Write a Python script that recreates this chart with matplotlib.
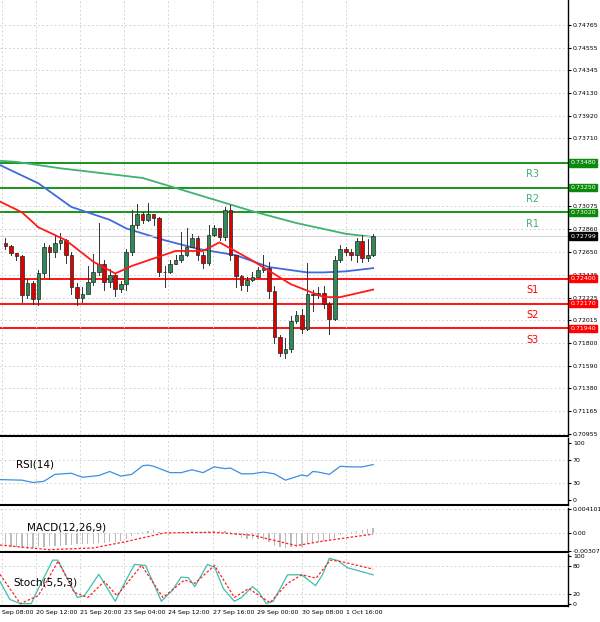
import matplotlib

matplotlib.use("Agg")
import matplotlib.pyplot as plt
from matplotlib.patches import Rectangle

# candle closes (open = previous close), highs, lows
OPEN0 = 0.7273
CLOSES = [0.7271, 0.7264, 0.7261, 0.7225, 0.7236, 0.7221, 0.7245, 0.7270, 0.7265, 0.7273,
          0.7276, 0.7262, 0.7232, 0.7222, 0.7226, 0.7237, 0.7246, 0.7254, 0.7237, 0.7244,
          0.7231, 0.7235, 0.7265, 0.7290, 0.7300, 0.7295, 0.7300, 0.7297, 0.7246, 0.7246,
          0.7254, 0.7258, 0.7262, 0.7270, 0.7278, 0.7262, 0.7255, 0.7281, 0.7287, 0.7279,
          0.7304, 0.7262, 0.7243, 0.7234, 0.7239, 0.7242, 0.7248, 0.7250, 0.7229, 0.7186,
          0.7171, 0.7175, 0.7201, 0.7206, 0.7193, 0.7226, 0.7225, 0.7227, 0.7217, 0.7203,
          0.7258, 0.7268, 0.7265, 0.7262, 0.7275, 0.7259, 0.7262, 0.7280]
HIGHS = [0.7278, 0.7272, 0.7264, 0.7262, 0.7240, 0.7238, 0.7248, 0.7273, 0.7272, 0.7280,
         0.7283, 0.7277, 0.7265, 0.7236, 0.7232, 0.7252, 0.7263, 0.7292, 0.7258, 0.7249,
         0.7245, 0.7238, 0.7268, 0.7304, 0.7310, 0.7302, 0.7311, 0.7300, 0.7298, 0.7252,
         0.7258, 0.7262, 0.7284, 0.7287, 0.7282, 0.7280, 0.7265, 0.7290, 0.7290, 0.7284,
         0.7307, 0.7309, 0.7258, 0.7244, 0.7242, 0.7246, 0.7251, 0.7262, 0.7256, 0.7233,
         0.7188, 0.7185, 0.7205, 0.7210, 0.7212, 0.7255, 0.7230, 0.7232, 0.7233, 0.7218,
         0.7261, 0.7272, 0.7270, 0.7268, 0.7278, 0.7281, 0.7277, 0.7282]
LOWS = [0.7268, 0.7262, 0.7258, 0.7218, 0.7222, 0.7217, 0.7216, 0.7242, 0.7240, 0.7260,
        0.7268, 0.7255, 0.7226, 0.7216, 0.7218, 0.7230, 0.7234, 0.7244, 0.7230, 0.7232,
        0.7224, 0.7228, 0.7230, 0.7262, 0.7287, 0.7292, 0.7294, 0.7290, 0.7243, 0.7232,
        0.7245, 0.7254, 0.7256, 0.7261, 0.7270, 0.7258, 0.7250, 0.7253, 0.7280, 0.7276,
        0.7276, 0.7258, 0.7232, 0.7230, 0.7229, 0.7238, 0.7244, 0.7246, 0.7222, 0.7180,
        0.7168, 0.7166, 0.7172, 0.7199, 0.7190, 0.7192, 0.7210, 0.7222, 0.7213, 0.7189,
        0.7202, 0.7256, 0.7262, 0.7258, 0.7256, 0.7256, 0.7257, 0.7261]

# moving averages: (candle index, price)
MA_SLOW_X = [-1, 2, 10, 25, 45, 53, 62, 67]
MA_SLOW_Y = [0.7350, 0.7349, 0.7343, 0.7334, 0.7303, 0.7292, 0.7282, 0.7279]
MA_MID_X = [-1, 6, 12, 19, 22, 29, 35, 42, 48, 55, 58, 62, 67]
MA_MID_Y = [0.7346, 0.7329, 0.7307, 0.7295, 0.7287, 0.7276, 0.7268, 0.7262, 0.7251, 0.7246, 0.7246, 0.7247, 0.7250]
MA_FAST_X = [-1, 3, 6, 11, 16, 20, 23, 27, 31, 36, 39, 45, 52, 55, 58, 61, 67]
MA_FAST_Y = [0.7312, 0.7302, 0.7288, 0.7276, 0.7256, 0.7245, 0.7252, 0.7259, 0.7266, 0.7266, 0.7274, 0.7257, 0.7235, 0.7229, 0.7223, 0.7223, 0.7230]

LEVELS = [0.7348, 0.7325, 0.7302, 0.7240, 0.7217, 0.7194]
LEVEL_NAMES = ["R3", "R2", "R1", "S1", "S2", "S3"]
LAST_PRICE = 0.72799
PRICE_TICKS = [0.74765, 0.74555, 0.74345, 0.74130, 0.73920, 0.73710, 0.73075, 0.72860,
               0.72650, 0.72435, 0.72225, 0.72015, 0.71800, 0.71590, 0.71380, 0.71165, 0.70955]

RSI_X = [-1, 3, 5, 7, 9, 12, 14, 17, 19, 21, 23, 25, 26, 27, 30, 32, 34, 36, 38, 40, 41, 43,
         45, 47, 49, 51, 52, 54, 55, 56, 57, 59, 61, 63, 65, 67]
RSI_Y = [36, 35, 31, 33, 45, 47, 40, 43, 50, 42, 45, 60, 61, 59, 48, 48, 53, 48, 58, 55, 56,
         46, 46, 49, 46, 35, 38, 44, 42, 50, 49, 45, 59, 58, 58, 62]

MACD_HIST = [-0.0022, -0.0024, -0.0025, -0.0026, -0.0027, -0.0026, -0.0025, -0.0024, -0.0023, -0.0022,
             -0.0022, -0.0021, -0.0021, -0.0020, -0.0020, -0.0019, -0.0019, -0.0018, -0.0017, -0.0016,
             -0.0015, -0.0014, -0.0010, -0.0006, -0.0002, 0.0002, 0.0004, 0.0005, 0.0002, 0.0000,
             -0.0002, 0.0000, 0.0001, 0.0002, 0.0003, 0.0002, 0.0001, 0.0003, 0.0004, 0.0003,
             0.0004, 0.0002, -0.0004, -0.0008, -0.0010, -0.0010, -0.0010, -0.0012, -0.0016, -0.0022,
             -0.0025, -0.0026, -0.0025, -0.0024, -0.0024, -0.0020, -0.0017, -0.0015, -0.0014, -0.0013,
             -0.0008, -0.0004, -0.0001, 0.0001, 0.0003, 0.0005, 0.0006, 0.0008]
MACD_SIG_X = [-1, 8, 16, 22, 29, 38, 45, 53, 58, 67]
MACD_SIG_Y = [-0.0021, -0.0029, -0.0026, -0.0015, 0.0000, 0.0001, -0.0004, -0.0022, -0.0014, -0.0002]

STOCH_X = [-1, 0.8, 2.7, 4.7, 6, 8.6, 9.5, 11.2, 13.1, 14.4, 17, 19, 20, 21.5, 23.5, 25.5, 27.4,
           28.4, 30.4, 32, 33.3, 34.5, 36.8, 38.1, 39.7, 41.7, 43, 45, 46.2, 47.5, 48.8, 51.4, 54,
           56.5, 57.8, 59, 60.6, 62.3, 67]
STOCH_K = [47, 9, 0, 0, 32, 92, 92, 55, 13, 17, 62, 24, 5, 39, 83, 81, 32, 5, 28, 56, 55, 36,
           83, 77, 32, 5, 13, 36, 24, 0, 5, 61, 61, 38, 62, 96, 91, 76, 61]
STOCH_D_X = [-1, 2.7, 6, 9.6, 12.5, 15, 18, 20.3, 24.8, 28.7, 32.6, 34.5, 38.1, 41.7, 44.3, 48.2,
             51.4, 54, 56.6, 59.2, 61.2, 67]
STOCH_D_Y = [62, 0, 17, 90, 24, 13, 47, 17, 81, 13, 50, 43, 81, 13, 32, 2, 43, 61, 54, 92, 89, 73]

TICK_IDX = [-0.6, 5.6, 13.6, 21.6, 29.6, 37.8, 45.8, 54, 62]
TICK_LABELS = ["Sep 08:00", "20 Sep 12:00", "21 Sep 20:00", "23 Sep 04:00", "24 Sep 12:00",
               "27 Sep 16:00", "29 Sep 00:00", "30 Sep 08:00", "1 Oct 16:00"]

XMAX = 102.5
W, H = 600, 622
RIGHT = 568
GREEN_LVL = "#0a8a0a"
RED_LVL = "#ff0000"
FS = 4.5


def make_ax(fig, top, bottom):
    ax = fig.add_axes([0, 1 - bottom / H, RIGHT / W, (bottom - top) / H])
    ax.set_xlim(-1, XMAX)
    ax.yaxis.tick_right()
    ax.tick_params(axis="y", labelsize=FS, length=2, pad=1.5)
    ax.tick_params(axis="x", length=0, labelbottom=False)
    ax.set_xticks(TICK_IDX)
    ax.grid(True, color="#c8c8c8", linestyle=(0, (2, 3)), linewidth=0.6)
    for side in ("left", "top"):
        ax.spines[side].set_visible(False)
    ax.spines["right"].set_linewidth(1.0)
    ax.spines["bottom"].set_linewidth(1.5)
    return ax


fig = plt.figure(figsize=(W / 100, H / 100), dpi=100)

# main price panel
ax = make_ax(fig, 0, 436)
ax.set_ylim(0.70936, 0.74998)
ax.set_yticks(PRICE_TICKS)
ax.set_yticklabels(["{:.5f}".format(v) for v in PRICE_TICKS])

opens = [OPEN0] + CLOSES[:-1]
for i, (o, c, hi, lo) in enumerate(zip(opens, CLOSES, HIGHS, LOWS)):
    ax.plot([i, i], [lo, hi], color="#333333", linewidth=0.7, zorder=3)
    color = "#2e8b57" if c >= o else "#e00000"
    body = max(abs(c - o), 0.00004)
    ax.add_patch(Rectangle((i - 0.33, min(o, c)), 0.66, body, facecolor=color,
                           edgecolor="#222222", linewidth=0.5, zorder=4))

ax.plot(MA_SLOW_X, MA_SLOW_Y, color="#3cb371", linewidth=1.3, zorder=2)
ax.plot(MA_MID_X, MA_MID_Y, color="#4169e1", linewidth=1.3, zorder=2)
ax.plot(MA_FAST_X, MA_FAST_Y, color="#ff1a1a", linewidth=1.3, zorder=5)

ax.axhline(LAST_PRICE, color="#cccccc", linewidth=0.6)
for lvl, name in zip(LEVELS, LEVEL_NAMES):
    col = GREEN_LVL if name.startswith("R") else RED_LVL
    ax.axhline(lvl, color=col, linewidth=1.3, zorder=1)
    ax.text(96, lvl - 0.00105, name, color="#3cb371" if col == GREEN_LVL else RED_LVL,
            fontsize=7, ha="center", va="center")
    ax.text(1.004, lvl, "{:.5f}".format(lvl), transform=ax.get_yaxis_transform(),
            fontsize=FS, color="white", va="center", ha="left", clip_on=False, zorder=10,
            bbox=dict(facecolor=col, edgecolor=col, pad=0.8))
ax.text(1.004, LAST_PRICE, "{:.5f}".format(LAST_PRICE), transform=ax.get_yaxis_transform(),
        fontsize=FS, color="white", va="center", ha="left", clip_on=False, zorder=10,
        bbox=dict(facecolor="black", edgecolor="black", pad=0.8))

# RSI
ax_rsi = make_ax(fig, 438, 505)
ax_rsi.set_ylim(-8, 108)
ax_rsi.set_yticks([0, 30, 70, 100])
ax_rsi.grid(False)
ax_rsi.grid(True, axis="x", color="#c8c8c8", linestyle=(0, (2, 3)), linewidth=0.6)
for v in (30, 70):
    ax_rsi.axhline(v, color="#c8c8c8", linestyle=(0, (2, 3)), linewidth=0.6)
ax_rsi.plot(RSI_X, RSI_Y, color="#3d8fe0", linewidth=0.9)
ax_rsi.text(2, 62, "RSI(14)", fontsize=7.5, va="center")

# MACD
ax_macd = make_ax(fig, 508, 552)
ax_macd.set_ylim(-0.0033, 0.0043)
ax_macd.set_yticks([-0.00307, 0.0, 0.004101])
ax_macd.set_yticklabels(["-0.00307", "0.00", "0.004101"])
ax_macd.bar(range(len(MACD_HIST)), MACD_HIST, width=0.25, color="#bbbbbb")
ax_macd.plot(MACD_SIG_X, MACD_SIG_Y, color="#ff2020", linestyle=(0, (2, 1.5)), linewidth=0.9)
ax_macd.text(4, 0.0009, "MACD(12,26,9)", fontsize=7.5, va="center")

# Stochastic
ax_st = make_ax(fig, 554, 606)
ax_st.set_ylim(-5, 105)
ax_st.set_yticks([0, 20, 80, 100])
ax_st.grid(False)
ax_st.grid(True, axis="x", color="#c8c8c8", linestyle=(0, (2, 3)), linewidth=0.6)
for v in (20, 80):
    ax_st.axhline(v, color="#c8c8c8", linestyle=(0, (2, 3)), linewidth=0.6)
ax_st.plot(STOCH_X, STOCH_K, color="#3cbfb0", linewidth=0.9)
ax_st.plot(STOCH_D_X, STOCH_D_Y, color="#ff2020", linestyle=(0, (2, 1.5)), linewidth=0.9)
ax_st.text(1.5, 45, "Stoch(5,5,3)", fontsize=7.5, va="center")
ax_st.tick_params(axis="x", labelbottom=True, labelsize=FS, pad=3)
ax_st.set_xticklabels(TICK_LABELS, ha="left")

fig.savefig("out.png", dpi=100, facecolor="white")
